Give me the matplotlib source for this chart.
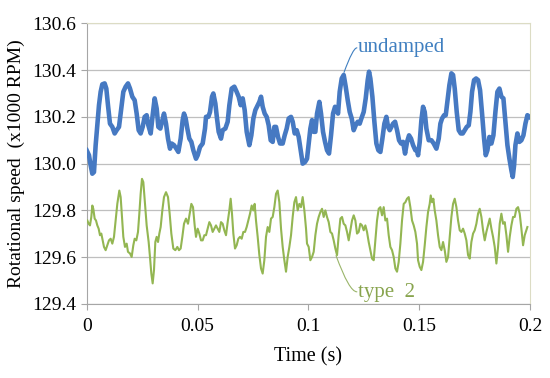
import numpy as np
import matplotlib
matplotlib.use("Agg")
from matplotlib import pyplot as plt

# undamped rotor (blue), time in ms, speed in x1000 RPM
t_undamped = [
    0.00, 1.04, 1.79, 2.54, 3.29, 4.05, 4.80, 5.55, 6.30, 7.05, 8.11, 8.86, 9.61, 10.51,
    11.57, 12.62, 13.52, 14.58, 15.63, 16.53, 17.58, 18.64, 19.54, 20.59, 21.65, 22.55,
    23.45, 24.35, 25.26, 26.16, 27.06, 27.81, 28.87, 29.77, 30.67, 31.57, 32.33, 33.23,
    34.13, 34.88, 35.79, 36.69, 37.59, 38.34, 39.40, 40.45, 41.35, 42.40, 43.31, 43.91,
    44.66, 45.41, 46.31, 47.22, 48.12,
    49.32, 50.08, 51.13, 52.33, 53.38, 53.84, 54.89, 55.64, 56.54, 57.14, 58.05, 58.80,
    59.55, 60.60, 61.36, 62.56, 63.61, 64.37, 65.42, 66.62, 67.67, 68.58, 69.48, 70.38,
    71.28, 72.19, 73.39, 74.29, 75.20, 76.10, 77.15, 77.90, 78.66, 79.41, 80.31, 81.21,
    82.11, 83.02, 83.92, 84.67, 85.42, 86.33, 87.23, 88.43, 89.33, 90.24, 91.14, 92.19,
    92.95, 93.85, 94.75, 95.65, 96.56, 97.46, 98.51,
    99.41, 100.17, 100.92, 101.67, 102.42, 103.17, 103.93, 104.98, 105.73, 106.63, 107.54,
    108.44, 109.34, 110.24, 111.15, 112.05, 112.65, 113.40, 114.15, 115.06, 115.96, 116.86,
    117.77, 118.67, 119.57, 120.47, 121.37, 122.28, 123.18, 123.93, 124.98, 125.89, 126.79,
    127.39, 127.99, 128.90, 129.80, 130.70, 131.60, 132.51, 133.41, 134.31, 135.21, 135.97,
    136.72, 137.47, 138.22, 139.13, 140.03, 140.93, 141.83, 142.74, 143.64, 144.54, 145.44,
    146.34, 147.25, 148.30, 149.05,
    149.50, 150.26, 151.01, 151.76, 152.51, 153.26, 154.32, 155.52, 156.57, 157.78, 158.83,
    159.58, 160.33, 161.24, 161.99, 162.74, 163.64, 164.55, 165.30, 166.05, 166.95, 167.85,
    168.76, 169.66, 170.56, 171.47, 172.37, 173.12, 173.87, 174.77, 175.68, 176.58, 177.48,
    178.38, 179.29, 180.04, 180.79, 181.69, 182.60, 183.50, 184.40, 185.30, 186.21, 187.11,
    188.01, 188.91, 189.82, 190.72, 191.62, 192.22, 192.83, 193.43, 194.33, 195.23, 196.13,
    197.04, 197.94, 198.84, 199.74,
]
v_undamped = [
    130.057, 130.036, 129.993, 129.957, 129.964, 130.079, 130.164, 130.250, 130.307, 130.339,
    130.343, 130.321, 130.250, 130.171, 130.157, 130.129, 130.143, 130.157, 130.236, 130.307,
    130.329, 130.343, 130.321, 130.286, 130.271, 130.214, 130.143, 130.129, 130.157, 130.200,
    130.207, 130.164, 130.129, 130.207, 130.279, 130.236, 130.157, 130.150, 130.186, 130.214,
    130.171, 130.107, 130.064, 130.086, 130.079, 130.064, 130.050, 130.107, 130.186, 130.214,
    130.193, 130.150, 130.107, 130.093, 130.057,
    130.021, 130.036, 130.071, 130.086, 130.150, 130.200, 130.200, 130.221, 130.286, 130.300,
    130.257, 130.193, 130.136, 130.107, 130.143, 130.150, 130.179, 130.250, 130.321, 130.329,
    130.307, 130.286, 130.250, 130.279, 130.229, 130.136, 130.079, 130.121, 130.193, 130.229,
    130.250, 130.264, 130.286, 130.243, 130.214, 130.200, 130.164, 130.100, 130.093, 130.157,
    130.157, 130.114, 130.086, 130.086, 130.121, 130.150, 130.193, 130.200, 130.179, 130.129,
    130.143, 130.114, 130.057, 130.000, 130.007,
    130.021, 130.086, 130.150, 130.186, 130.136, 130.136, 130.214, 130.264, 130.214, 130.136,
    130.093, 130.057, 130.043, 130.121, 130.214, 130.243, 130.236, 130.214, 130.307, 130.364,
    130.379, 130.329, 130.271, 130.221, 130.193, 130.143, 130.164, 130.179, 130.171, 130.193,
    130.221, 130.279, 130.357, 130.393, 130.364, 130.286, 130.179, 130.086, 130.057, 130.050,
    130.107, 130.171, 130.200, 130.157, 130.143, 130.157, 130.171, 130.179, 130.143, 130.100,
    130.086, 130.093, 130.043, 130.093, 130.121, 130.107, 130.079, 130.057, 130.057,
    130.036, 130.093, 130.186, 130.243, 130.221, 130.150, 130.100, 130.100, 130.086, 130.064,
    130.107, 130.171, 130.193, 130.207, 130.207, 130.264, 130.336, 130.386, 130.379, 130.321,
    130.221, 130.143, 130.129, 130.129, 130.143, 130.157, 130.164, 130.221, 130.307, 130.357,
    130.364, 130.357, 130.314, 130.214, 130.107, 130.036, 130.057, 130.114, 130.086, 130.121,
    130.221, 130.307, 130.321, 130.286, 130.279, 130.179, 130.079, 130.021, 129.971, 129.943,
    129.993, 130.079, 130.129, 130.093, 130.100, 130.121, 130.171, 130.207, 130.200,
]

# type 2 damper (green)
t_type2 = [
    0.29, 0.89, 1.49, 2.09, 2.54, 2.99, 3.60, 4.20, 4.80, 5.40, 6.00, 6.60, 7.21, 7.81,
    8.56, 9.31, 10.06, 10.82, 11.57, 12.32, 13.07, 13.82, 14.73, 15.33, 15.93, 16.53,
    17.28, 18.04, 18.64, 19.54, 20.29, 21.04, 21.65, 22.40, 23.15, 23.75, 24.35, 24.95,
    25.56, 26.31, 27.06, 27.96, 28.56, 29.17, 29.77, 30.37, 30.97, 31.57, 32.18, 32.78,
    33.38, 34.13, 34.88, 35.79, 36.69, 37.44, 38.19, 39.09, 40.00, 40.90, 41.65, 42.40,
    43.16, 43.91, 44.81, 45.71, 46.47, 47.22, 47.97, 48.72,
    49.32, 50.07, 50.82, 51.58, 52.33, 53.08, 53.83, 54.58, 55.34, 56.09, 56.84, 57.59,
    58.34, 59.10, 59.85, 60.60, 61.35, 62.10, 62.86, 63.61, 64.36, 64.96, 65.56, 66.17,
    66.92, 67.67, 68.42, 69.17, 69.93, 70.68, 71.43, 72.18, 72.93, 73.69, 74.44, 75.19,
    75.79, 76.39, 77.15, 77.90, 78.65, 79.40, 80.15, 80.91, 81.66, 82.41, 83.16, 83.92,
    84.67, 85.42, 86.17, 86.92, 87.68, 88.43, 89.18, 89.93, 90.68, 91.44, 92.19, 92.94,
    93.69, 94.44, 95.20, 95.95, 96.70, 97.45, 98.21, 98.96,
    99.41, 100.16, 100.91, 101.67, 102.42, 103.17, 103.92, 104.67, 105.43, 106.18, 106.93,
    107.68, 108.43, 109.19, 109.94, 110.69, 111.44, 112.19, 112.95, 113.70, 114.45, 115.20,
    115.95, 116.71, 117.46, 118.21, 118.96, 119.71, 120.47, 121.22, 121.97, 122.72, 123.47,
    124.23, 124.98, 125.73, 126.48, 127.23, 127.99, 128.74, 129.49, 130.24, 130.99, 131.75,
    132.50, 133.25, 134.00, 134.75, 135.51, 136.26, 137.01, 137.76, 138.51, 139.27, 140.02,
    140.77, 141.52, 142.27, 143.03, 143.78, 144.53, 145.28, 146.03, 146.79, 147.54, 148.29,
    149.04,
    149.50, 150.25, 151.00, 151.76, 152.51, 153.26, 154.01, 154.76, 155.22, 155.82, 156.42,
    157.02, 157.77, 158.52, 159.28, 160.03, 160.78, 161.53, 162.28, 163.04, 163.79, 164.54,
    165.29, 166.04, 166.80, 167.55, 168.30, 169.05, 169.80, 170.56, 171.31, 172.06, 172.81,
    173.56, 174.32, 175.07, 175.82, 176.57, 177.32, 178.08, 178.83, 179.58, 180.33, 181.08,
    181.84, 182.59, 183.34, 184.09, 184.84, 185.60, 186.35, 187.10, 187.85, 188.60, 189.36,
    190.11, 190.86, 191.61, 192.36, 193.12, 193.87, 194.62, 195.37, 196.12, 196.88, 197.63,
    198.38, 198.83,
]
v_type2 = [
    129.757, 129.743, 129.736, 129.772, 129.821, 129.807, 129.765, 129.757, 129.736, 129.722,
    129.694, 129.701, 129.672, 129.644, 129.630, 129.651, 129.672, 129.679, 129.658, 129.687,
    129.757, 129.828, 129.885, 129.857, 129.772, 129.687, 129.644, 129.658, 129.623, 129.616,
    129.601, 129.651, 129.679, 129.672, 129.708, 129.786, 129.871, 129.935, 129.921, 129.828,
    129.736, 129.665, 129.601, 129.530, 129.488, 129.545, 129.665, 129.687, 129.665, 129.701,
    129.729, 129.800, 129.857, 129.878, 129.857, 129.786, 129.701, 129.637, 129.630, 129.644,
    129.630, 129.637, 129.687, 129.743, 129.765, 129.743, 129.786, 129.828, 129.814, 129.736,
    129.687, 129.722, 129.701, 129.672, 129.672, 129.694, 129.694, 129.722, 129.750, 129.736,
    129.708, 129.722, 129.736, 129.722, 129.708, 129.750, 129.743, 129.715, 129.694, 129.750,
    129.800, 129.850, 129.786, 129.701, 129.637, 129.651, 129.679, 129.687, 129.679, 129.708,
    129.708, 129.729, 129.757, 129.786, 129.821, 129.800, 129.828, 129.757, 129.687, 129.609,
    129.552, 129.530, 129.587, 129.687, 129.729, 129.708, 129.765, 129.772, 129.814, 129.871,
    129.885, 129.835, 129.722, 129.644, 129.587, 129.538, 129.601, 129.644, 129.694, 129.772,
    129.835, 129.857, 129.800, 129.828, 129.814, 129.857, 129.800, 129.722,
    129.658, 129.644, 129.587, 129.601, 129.623, 129.694, 129.743, 129.772, 129.793, 129.807,
    129.772, 129.800, 129.772, 129.750, 129.708, 129.701, 129.672, 129.637, 129.609, 129.694,
    129.765, 129.772, 129.743, 129.736, 129.708, 129.672, 129.715, 129.757, 129.779, 129.757,
    129.701, 129.708, 129.743, 129.736, 129.715, 129.736, 129.708, 129.665, 129.630, 129.594,
    129.587, 129.672, 129.757, 129.807, 129.814, 129.779, 129.814, 129.757, 129.765, 129.694,
    129.644, 129.630, 129.601, 129.552, 129.538, 129.580, 129.658, 129.757, 129.828, 129.835,
    129.850, 129.857, 129.814, 129.757, 129.736, 129.708, 129.658,
    129.587, 129.559, 129.545, 129.580, 129.651, 129.729, 129.793, 129.828, 129.864, 129.835,
    129.850, 129.800, 129.757, 129.694, 129.644, 129.630, 129.665, 129.630, 129.580, 129.601,
    129.687, 129.772, 129.828, 129.850, 129.814, 129.757, 129.715, 129.708, 129.722, 129.701,
    129.672, 129.609, 129.594, 129.665, 129.701, 129.715, 129.743, 129.786, 129.807, 129.772,
    129.715, 129.672, 129.708, 129.736, 129.765, 129.722, 129.687, 129.644, 129.573, 129.644,
    129.743, 129.786, 129.743, 129.750, 129.694, 129.623, 129.687, 129.736, 129.772, 129.772,
    129.807, 129.814, 129.786, 129.722, 129.651, 129.694, 129.715, 129.729,
]

x_ticks = [0, 0.05, 0.1, 0.15, 0.2]
x_ticklabels = ["0", "0.05", "0.1", "0.15", "0.2"]
y_ticks = [129.4, 129.6, 129.8, 130.0, 130.2, 130.4, 130.6]

blue = "#4679c2"
green = "#93b652"

plt.rcParams["font.family"] = ["Liberation Serif", "DejaVu Serif"]

fig = plt.figure(figsize=(5.5, 3.78), dpi=100)
ax = fig.add_axes([0.1576, 0.1958, 0.806, 0.7426])

t1 = np.array(t_undamped) / 1000
t2 = np.array(t_type2) / 1000
ax.plot(t1, v_undamped, color=blue, lw=3.3, solid_joinstyle="round", zorder=3)
ax.plot(t2, v_type2, color=green, lw=1.5, zorder=3)

ax.set_xlim(0, 0.2)
ax.set_ylim(129.4, 130.6)
ax.set_xticks(x_ticks)
ax.set_xticklabels(x_ticklabels)
ax.set_yticks(y_ticks)
ax.set_yticklabels([f"{v:.1f}" for v in y_ticks])
ax.yaxis.grid(True, color="#bfbfbf", lw=0.9)
ax.set_axisbelow(True)

for side in ["left", "bottom"]:
    ax.spines[side].set_color("#a6a6a6")
for side in ["top", "right"]:
    ax.spines[side].set_color("#dcdcc4")
ax.tick_params(axis="both", colors="#a6a6a6", labelcolor="black", labelsize=14,
               direction="out", length=4)
ax.tick_params(axis="x", pad=6)

ax.set_xlabel("Time (s)", fontsize=14.5, labelpad=9)
ax.set_ylabel("Rotational speed  (x1000 RPM)", fontsize=14, labelpad=5)

# callout labels with curved leader lines
ax.text(0.1224, 130.498, "undamped", color="#3f7fc0", fontsize=15, va="center", ha="left")
ax.annotate("", xy=(0.1161, 130.39), xytext=(0.1219, 130.495),
            arrowprops=dict(arrowstyle="-", color="#3f7fc0", lw=0.8,
                            connectionstyle="angle3,angleA=180,angleB=70",
                            shrinkA=0, shrinkB=0))
ax.text(0.1224, 129.448, "type  2", color="#88a44e", fontsize=15, va="center", ha="left")
ax.annotate("", xy=(0.1125, 129.607), xytext=(0.1219, 129.452),
            arrowprops=dict(arrowstyle="-", color="#9ab56a", lw=0.8,
                            connectionstyle="angle3,angleA=180,angleB=-70",
                            shrinkA=0, shrinkB=0))

fig.savefig("out.png", dpi=100)
